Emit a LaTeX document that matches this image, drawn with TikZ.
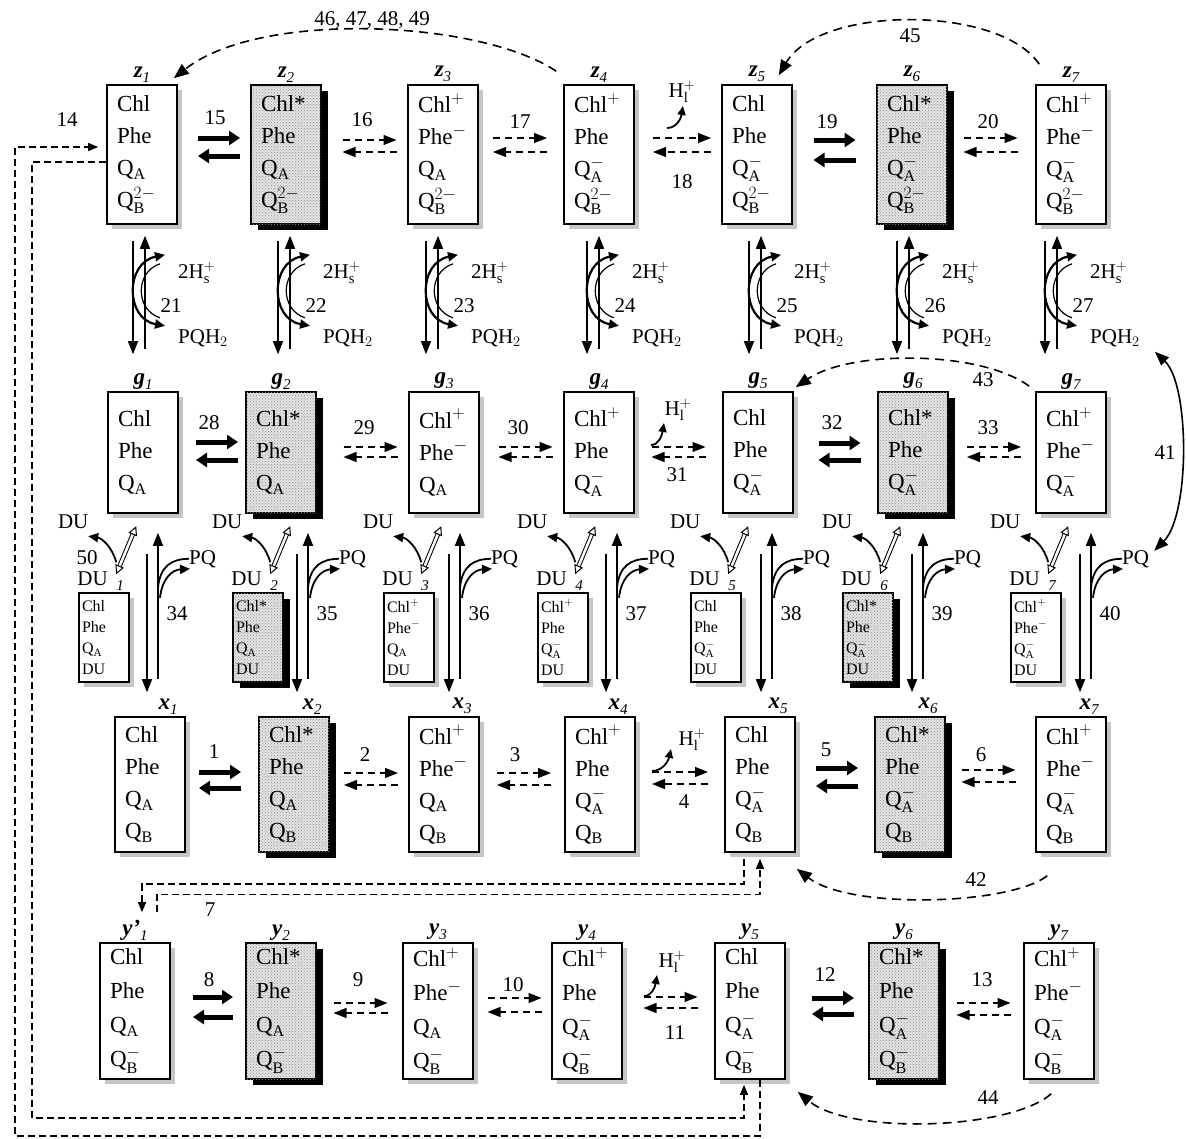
\documentclass[tikz,border=0pt]{standalone}
\usepackage{fontspec}
\setmainfont{Liberation Serif}
\usetikzlibrary{arrows.meta,calc,shadows,patterns}
\newcommand\QA{Q$_{\mathrm{A}}$}
\newcommand\QAm{Q$_{\mathrm{A}}^{-}$}
\newcommand\QB{Q$_{\mathrm{B}}$}
\newcommand\QBm{Q$_{\mathrm{B}}^{-}$}
\newcommand\QBmm{Q$_{\mathrm{B}}^{2-}$}
\newcommand\Chlp{Chl$^{+}$}
\newcommand\Phem{Phe$^{-}$}
\newcommand\boxfont{\fontsize{23}{32}\selectfont}
\newcommand\yboxfont{\fontsize{23}{34}\selectfont}
\newcommand\dufont{\fontsize{16}{21}\selectfont}
\newcommand\numfont{\fontsize{21}{22}\selectfont}
\newcommand\lab[2]{{\bfseries\itshape #1}\raisebox{-5pt}{\fontsize{15}{15}\selectfont\itshape #2}}
\newcommand\Hl{H$_{\mathrm{l}}^{+}$}
% pair of horizontal arrows between two boxes
\newcommand\rpair[7]{%
  \coordinate (mid) at ($(#1.east)!0.5!(#2.west)+(#7,0)$);
  \coordinate (ya) at (0,#5);
  \coordinate (yb) at (0,#6);
  \draw[#3] ($(mid |- ya)+(-#4,0)$) -- ($(mid |- ya)+(#4,0)$);
  \draw[#3] ($(mid |- yb)+(#4,0)$) -- ($(mid |- yb)+(-#4,0)$);
}
% vertical arrows between z and g rows
\newcommand\zg[4]{%
  \coordinate (t#4) at ($(#1.south)+(#3,16)$);
  \coordinate (b#4) at ($(t#4 |- #2.north)+(0,-37)$);
  \draw[varr] (t#4) -- (b#4);
  \draw[varr] ($(b#4)+(12,-5)$) -- ($(t#4)+(12,-5)$);
  \draw[carr] ($(t#4)+(32,14)$) .. controls ($(t#4)+(-8,22)$) and ($(t#4)+(-8,78)$) .. ($(t#4)+(32,85)$);
  \draw[line width=1.2pt] ($(t#4)+(27,23)$) .. controls ($(t#4)+(2,31)$) and ($(t#4)+(2,69)$) .. ($(t#4)+(27,77)$);
  \node[num] (n#4) at ($(t#4)+(38,65)$) {#4};
  \node[num, anchor=west] (h#4) at ($(t#4)+(44,32)$) {2H$_{\mathrm{s}}^{+}$};
  \node[num, anchor=west] (p#4) at ($(t#4)+(44,97)$) {PQH$_{2}$};
}
% vertical arrows between g and x rows
\newcommand\gx[4]{%
  \coordinate (s#4) at ($(#1.south)+(#3,40)$);
  \coordinate (e#4) at ($(s#4 |- #2.north)+(0,-24)$);
  \draw[varr] (s#4) -- (e#4);
  \draw[varr] ($(e#4)+(11,-13)$) -- ($(s#4)+(11,-21)$);
  \draw[pqline] ($(s#4)+(11,34)$) .. controls ($(s#4)+(13,12)$) and ($(s#4)+(25,5)$) .. ($(s#4)+(42,5)$);
  \draw[pqarr] ($(s#4)+(13,44)$) .. controls ($(s#4)+(15,25)$) and ($(s#4)+(25,16)$) .. ($(s#4)+(43,15)$);
  \node[num, anchor=west] (pq#4) at ($(s#4)+(41,5)$) {PQ};
  \node[num] (n#4) at ($(s#4)+(30,60)$) {#4};
}
% DU exchange
\newcommand\du[2]{%
  \coordinate (L#2) at (#1.north west);
  \node[num] (dut#2) at ($(L#2)+(-5,-70)$) {DU};
  \draw[hollow] ($(L#2)+(38,-18)$) -- ($(L#2)+(58,-66)$);
  \draw[duarr] ($(L#2)+(38,-30)$) .. controls ($(L#2)+(34,-45)$) and ($(L#2)+(24,-54)$) .. ($(L#2)+(10,-56)$);
  \node[num, anchor=west] (dul#2) at ($(L#2)+(-2,-13)$) {DU};
  \node[idx] (dui#2) at ($(L#2)+(42,-7)$) {#2};
}
\begin{document}
\begin{tikzpicture}[x=1pt,y=-1pt,
  num/.style={font=\numfont, inner sep=1pt},
  idx/.style={font=\fontsize{15}{15}\selectfont\itshape, inner sep=0pt},
  lbl/.style={font=\fontsize{23}{23}\selectfont, inner sep=1pt, anchor=south},
  box/.style={draw, line width=1.6pt, fill=white, inner sep=0pt, minimum width=70pt, text width=50pt, align=left, font=\boxfont},
  wbox/.style={box, drop shadow={shadow xshift=5pt, shadow yshift=-5pt, fill=gray!45, opacity=1}},
  sbox/.style={box, fill=gray!22, postaction={pattern=crosshatch dots, pattern color=gray!85}, drop shadow={shadow xshift=7pt, shadow yshift=-6pt, fill=black, opacity=1}},
  dwbox/.style={wbox, minimum width=50pt, text width=44pt, minimum height=89pt, font=\dufont},
  dsbox/.style={sbox, minimum width=50pt, text width=44pt, minimum height=89pt, font=\dufont},
  thk/.style={line width=5pt, -{Triangle[length=11pt,width=14pt]}},
  dsh/.style={line width=1.3pt, dash pattern=on 7pt off 5pt, -{Triangle[length=13pt,width=10pt]}},
  varr/.style={line width=1.5pt, -{Triangle[length=13pt,width=10pt]}},
  carr/.style={line width=2.2pt, {Triangle[length=10pt,width=9pt]}-{Triangle[length=10pt,width=9pt]}},
  pqline/.style={line width=1.8pt},
  pqarr/.style={line width=1.8pt, -{Triangle[length=10pt,width=9pt]}},
  hollow/.style={line width=1pt, double, double distance=2.5pt, {Triangle[open,length=9pt,width=9pt]}-{Triangle[open,length=9pt,width=9pt]}},
  duarr/.style={line width=1.8pt, -{Triangle[length=10pt,width=9pt]}},
  hlarr/.style={line width=1.8pt, -{Triangle[length=9pt,width=8pt]}},
  cdsh/.style={line width=1.6pt, dash pattern=on 9pt off 6pt, -{Triangle[length=15pt,width=12pt]}},
  ldsh/.style={line width=1.4pt, dash pattern=on 7pt off 4pt, -{Triangle[length=10pt,width=8pt]}},
]
\fill[white] (0,0) rectangle (1186,1138);
\useasboundingbox (0,0) rectangle (1186,1138);

% ---------- z row
\node[wbox, minimum height=139pt] (z1) at (142,154.5) {Chl\\Phe\\\QA\\\QBmm};
\node[sbox, minimum height=139pt] (z2) at (286,154.5) {Chl*\\Phe\\\QA\\\QBmm};
\node[wbox, minimum height=139pt] (z3) at (443,154.5) {\Chlp\\\Phem\\\QA\\\QBmm};
\node[wbox, minimum height=139pt] (z4) at (599,154.5) {\Chlp\\Phe\\\QAm\\\QBmm};
\node[wbox, minimum height=139pt] (z5) at (757,154.5) {Chl\\Phe\\\QAm\\\QBmm};
\node[sbox, minimum height=139pt] (z6) at (912,154.5) {Chl*\\Phe\\\QAm\\\QBmm};
\node[wbox, minimum height=139pt] (z7) at (1071,154.5) {\Chlp\\\Phem\\\QAm\\\QBmm};
% ---------- g row
\node[wbox, minimum height=121pt] (g1) at (143,452.5) {Chl\\Phe\\\QA};
\node[sbox, minimum height=121pt] (g2) at (281,452.5) {Chl*\\Phe\\\QA};
\node[wbox, minimum height=121pt] (g3) at (444,452.5) {\Chlp\\\Phem\\\QA};
\node[wbox, minimum height=121pt] (g4) at (599,452.5) {\Chlp\\Phe\\\QAm};
\node[wbox, minimum height=121pt] (g5) at (758,452.5) {Chl\\Phe\\\QAm};
\node[sbox, minimum height=121pt] (g6) at (913,452.5) {Chl*\\Phe\\\QAm};
\node[wbox, minimum height=121pt] (g7) at (1071,452.5) {\Chlp\\\Phem\\\QAm};
% ---------- DU boxes
\node[dwbox] (du1) at (104,637.5) {Chl\\Phe\\\QA\\DU};
\node[dsbox] (du2) at (258,637.5) {Chl*\\Phe\\\QA\\DU};
\node[dwbox] (du3) at (409,637.5) {\Chlp\\\Phem\\\QA\\DU};
\node[dwbox] (du4) at (563,637.5) {\Chlp\\Phe\\\QAm\\DU};
\node[dwbox] (du5) at (716,637.5) {Chl\\Phe\\\QAm\\DU};
\node[dsbox] (du6) at (868,637.5) {Chl*\\Phe\\\QAm\\DU};
\node[dwbox] (du7) at (1036,637.5) {\Chlp\\\Phem\\\QAm\\DU};
% ---------- x row
\node[wbox, minimum height=135pt] (x1) at (150,784.5) {Chl\\Phe\\\QA\\\QB};
\node[sbox, minimum height=135pt] (x2) at (294,784.5) {Chl*\\Phe\\\QA\\\QB};
\node[wbox, minimum height=135pt] (x3) at (444,784.5) {\Chlp\\\Phem\\\QA\\\QB};
\node[wbox, minimum height=135pt] (x4) at (600,784.5) {\Chlp\\Phe\\\QAm\\\QB};
\node[wbox, minimum height=135pt] (x5) at (760,784.5) {Chl\\Phe\\\QAm\\\QB};
\node[sbox, minimum height=135pt] (x6) at (910,784.5) {Chl*\\Phe\\\QAm\\\QB};
\node[wbox, minimum height=135pt] (x7) at (1071,784.5) {\Chlp\\\Phem\\\QAm\\\QB};
% ---------- y row
\node[wbox, minimum height=136pt, font=\yboxfont] (y1) at (135,1011) {Chl\\Phe\\\QA\\\QBm};
\node[sbox, minimum height=136pt, font=\yboxfont] (y2) at (281,1011) {Chl*\\Phe\\\QA\\\QBm};
\node[wbox, minimum height=136pt, font=\yboxfont] (y3) at (438,1011) {\Chlp\\\Phem\\\QA\\\QBm};
\node[wbox, minimum height=136pt, font=\yboxfont] (y4) at (587,1011) {\Chlp\\Phe\\\QAm\\\QBm};
\node[wbox, minimum height=136pt, font=\yboxfont] (y5) at (750,1011) {Chl\\Phe\\\QAm\\\QBm};
\node[sbox, minimum height=136pt, font=\yboxfont] (y6) at (904,1011) {Chl*\\Phe\\\QAm\\\QBm};
\node[wbox, minimum height=136pt, font=\yboxfont] (y7) at (1059,1011) {\Chlp\\\Phem\\\QAm\\\QBm};

% ---------- state labels
\foreach \i in {1,...,7}{
  \node[lbl] (lz\i) at ($(z\i.north)+(0,-1)$) {\lab{z}{\i}};
  \node[lbl] (lg\i) at ($(g\i.north)+(0,-1)$) {\lab{g}{\i}};
  \node[lbl] (lx\i) at ($(x\i.north)+(18,-1)$) {\lab{x}{\i}};
}
\foreach \i in {2,...,7}{
  \node[lbl] (ly\i) at ($(y\i.north)+(0,-1)$) {\lab{y}{\i}};
}
\node[lbl] (ly1) at ($(y1.north)+(0,-1)$) {\lab{y'}{1}};

% ---------- horizontal reactions
\rpair{z1}{z2}{thk}{21}{138}{156}{5}
\rpair{z2}{z3}{dsh}{27}{140}{152}{5}
\rpair{z3}{z4}{dsh}{27}{138}{152}{-1}
\rpair{z4}{z5}{dsh}{29}{138}{152}{4}
\rpair{z5}{z6}{thk}{21}{140}{160}{0}
\rpair{z6}{z7}{dsh}{27}{138}{152}{-1}
\rpair{g1}{g2}{thk}{21}{442}{460}{5}
\rpair{g2}{g3}{dsh}{27}{447}{457}{8}
\rpair{g3}{g4}{dsh}{27}{447}{457}{4}
\rpair{g4}{g5}{dsh}{27}{447}{457}{0}
\rpair{g5}{g6}{thk}{21}{443}{460}{4}
\rpair{g6}{g7}{dsh}{27}{447}{457}{2}
\rpair{x1}{x2}{thk}{21}{772}{788}{-2}
\rpair{x2}{x3}{dsh}{27}{773}{785}{2}
\rpair{x3}{x4}{dsh}{27}{773}{785}{2}
\rpair{x4}{x5}{dsh}{28}{772}{784}{0}
\rpair{x5}{x6}{thk}{21}{768}{786}{2}
\rpair{x6}{x7}{dsh}{27}{770}{782}{-2}
\rpair{y1}{y2}{thk}{20}{997}{1017}{5}
\rpair{y2}{y3}{dsh}{27}{1003}{1013}{1}
\rpair{y3}{y4}{dsh}{27}{998}{1012}{2}
\rpair{y4}{y5}{dsh}{27}{997}{1008}{2}
\rpair{y5}{y6}{thk}{21}{998}{1014}{6}
\rpair{y6}{y7}{dsh}{27}{1003}{1015}{2}

% labels of horizontal reactions
\node[num] (l14) at (67,120) {14};
\node[num] (l15) at (215,118) {15};
\node[num] (l16) at (362,120) {16};
\node[num] (l17) at (520,122) {17};
\node[num] (l18) at (682,182) {18};
\node[num] (l19) at (827,122) {19};
\node[num] (l20) at (988,122) {20};
\node[num] (l28) at (209,423) {28};
\node[num] (l29) at (364,428) {29};
\node[num] (l30) at (518,428) {30};
\node[num] (l31) at (677,475) {31};
\node[num] (l32) at (832,423) {32};
\node[num] (l33) at (988,428) {33};
\node[num] (l1) at (214,752) {1};
\node[num] (l2) at (365,755) {2};
\node[num] (l3) at (515,755) {3};
\node[num] (l4) at (684,802) {4};
\node[num] (l5) at (826,750) {5};
\node[num] (l6) at (981,755) {6};
\node[num] (l8) at (209,980) {8};
\node[num] (l9) at (358,980) {9};
\node[num] (l10) at (513,985) {10};
\node[num] (l11) at (675,1033) {11};
\node[num] (l12) at (825,975) {12};
\node[num] (l13) at (982,980) {13};

% H_l^+ release
\node[num] (hz) at (682,92) {\Hl};
\node[num] (hg) at (678,410) {\Hl};
\node[num] (hx) at (692,740) {\Hl};
\node[num] (hy) at (672,962) {\Hl};
\draw[hlarr] (667,128) .. controls (677,128) and (681,118) .. (683,106);
\draw[hlarr] (651,445) .. controls (659,445) and (662,435) .. (664,423);
\draw[hlarr] (652,771) .. controls (662,771) and (668,762) .. (671,749);
\draw[hlarr] (644,996) .. controls (652,996) and (655,987) .. (657,975);

% ---------- vertical reactions z <-> g
\zg{z1}{g1}{-9}{21}
\zg{z2}{g2}{-8}{22}
\zg{z3}{g3}{-17}{23}
\zg{z4}{g4}{-12}{24}
\zg{z5}{g5}{-8}{25}
\zg{z6}{g6}{-15}{26}
\zg{z7}{g7}{-26}{27}
% ---------- vertical reactions g <-> x
\gx{g1}{x1}{4}{34}
\gx{g2}{x2}{16}{35}
\gx{g3}{x3}{5}{36}
\gx{g4}{x4}{7}{37}
\gx{g5}{x5}{3}{38}
\gx{g6}{x6}{-1}{39}
\gx{g7}{x7}{9}{40}
% ---------- DU exchange
\du{du1}{1}
\du{du2}{2}
\du{du3}{3}
\du{du4}{4}
\du{du5}{5}
\du{du6}{6}
\du{du7}{7}
\node[num] (l50) at (87,558) {50};

% ---------- long-range dashed connectors
\draw[cdsh] ($(z4.north west)+(-7,-13)$) .. controls (480,20) and (260,10) .. ($(z1.north east)+(-4,-6)$);
\node[num] (l46) at (372,20) {46, 47, 48, 49};
\draw[cdsh] ($(z7.north west)+(4,-20)$) .. controls (1000,5) and (820,5) .. ($(z5.north east)+(-14,-9)$);
\node[num] (l45) at (910,36) {45};
\draw[cdsh] ($(g7.north west)+(-6,-5)$) .. controls (980,350) and (850,350) .. ($(g5.north east)+(2,-4)$);
\node[num] (l43) at (983,380) {43};
\draw[cdsh] ($(x7.south west)+(12,23)$) .. controls (1010,905) and (850,910) .. ($(x5.south east)+(1,16)$);
\node[num] (l42) at (976,880) {42};
\draw[cdsh] ($(y7.south west)+(28,14)$) .. controls (1010,1130) and (850,1135) .. ($(y5.south east)+(12,12)$);
\node[num] (l44) at (988,1098) {44};
% 41
\draw[line width=1.6pt, {Triangle[length=14pt,width=11pt]}-{Triangle[length=14pt,width=11pt]}] ($(p27.east)+(14,14)$) .. controls (1190,385) and (1190,515) .. ($(pq40.east)+(4,-8)$);
\node[num] (l41) at (1165,453) {41};
% 14 (z1 <-> y5)
\draw[ldsh] ($(y5.south)+(10,0)$) -- ++(0,56) -| (15,147) -- ($(z1.west)+(-8,-7.5)$);
\draw[ldsh] ($(z1.west)+(0,7.5)$) -| (32,1118) -| ($(y5.south)+(-6,5)$);
% 7 (x5 <-> y1)
\draw[ldsh] ($(x5.south)+(-16,6)$) |- (142,884) -- ($(y1.north)+(7,-30)$);
\draw[ldsh] ($(y1.north)+(22,-30)$) -- ++(0,-18) -| ($(x5.south)+(0,6)$);
\node[num] (l7) at (210,910) {7};
\end{tikzpicture}
\end{document}
